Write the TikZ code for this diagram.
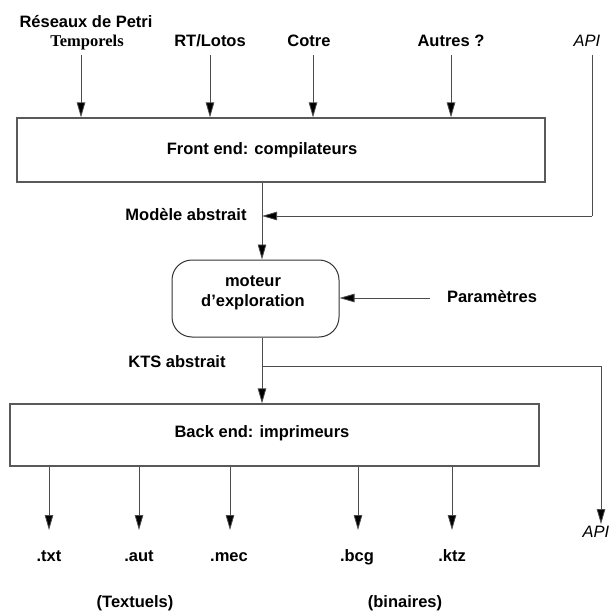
\documentclass[tikz,border=0pt]{standalone}
\usepackage{fontspec}
\setmainfont{Liberation Sans}
\newfontfamily\timesbf{Liberation Serif}
\usetikzlibrary{arrows.meta}

\begin{document}
\begin{tikzpicture}[x=1pt,y=-1pt,
  every node/.style={inner sep=0pt, text height=12pt, text depth=3.5pt,
    font=\fontsize{16.5}{20}\selectfont\bfseries},
  apist/.style={font=\fontsize{16.5}{20}\selectfont\itshape},
  boxst/.style={draw=black!65, line width=1.2pt, inner sep=0pt},
  flow/.style={draw=black!70, line width=0.8pt, -{Triangle[length=15pt,width=8.5pt,fill=black]}},
  plain/.style={draw=black!70, line width=0.8pt}]
\useasboundingbox (0,0) rectangle (612,612);

% --- boxes ---
\node[boxst, minimum width=528pt, minimum height=64pt] (front) at (281,150) {};
\node (frontlbl) at (262,150) {Front end: compilateurs};
\node[draw=black!80, line width=1pt, rounded corners=20pt,
      minimum width=167pt, minimum height=77pt] (moteur) at (255.5,298.5) {};
\node[align=center, text height=, text depth=] (moteurlbl) at (253,293) {moteur\\d’exploration};
\node[boxst, minimum width=529pt, minimum height=62pt] (back) at (274.5,435) {};
\node (backlbl) at (262,433) {Back end: imprimeurs};

% --- input languages ---
\node (petri) at (86,23) {Réseaux de Petri};
\node[font=\fontsize{16.5}{20}\selectfont\timesbf\bfseries] (temp) at (87,42) {Temporels};
\node (rt) at (210,42) {RT/Lotos};
\node (cotre) at (309,42) {Cotre};
\node (autres) at (451,42) {Autres ?};
\node[apist] (apiin) at (587,42) {API};

\coordinate (i1) at (81,55);
\coordinate (i2) at (210,55);
\coordinate (i3) at (313,55);
\coordinate (i4) at (451,55);
\coordinate (i5) at (592,55);
\foreach \c in {i1,i2,i3,i4}
  \draw[flow] (\c) -- (\c |- front.north);

% --- middle part ---
\coordinate (spine) at (262,0);
\coordinate (apicorner) at (592,216);
\node (modele) at (186,216) {Modèle abstrait};
\draw[plain] (i5) -- (apicorner);
\draw[flow] (apicorner) -- (apicorner -| spine);
\draw[flow] (front.south -| spine) -- (moteur.north -| spine);

\node (param) at (492,298) {Paramètres};
\coordinate (pstart) at (430,298);
\draw[flow] (pstart) -- (pstart -| moteur.east);

\node (kts) at (177,363) {KTS abstrait};
\coordinate (branch) at (262,366);
\coordinate (bcorner) at (601,366);
\draw[flow] (moteur.south -| spine) -- (back.north -| spine);
\node[apist] (apiout) at (596,533) {API};
\draw[plain] (branch) -- (bcorner);
\draw[flow] (bcorner) -- ([yshift=1pt]bcorner |- apiout.north);

% --- outputs ---
\node (txt) at (49,557) {.txt};
\node (aut) at (139,557) {.aut};
\node (mec) at (229,557) {.mec};
\node (bcg) at (357,557) {.bcg};
\node (ktz) at (452,557) {.ktz};
\foreach \n/\x in {txt/49,aut/139,mec/230,bcg/358,ktz/452}
  \draw[flow] (back.south -| \x,0) -- (\x,530);

\node (textuels) at (135,603) {(Textuels)};
\node (binaires) at (405,603) {(binaires)};
\end{tikzpicture}
\end{document}
